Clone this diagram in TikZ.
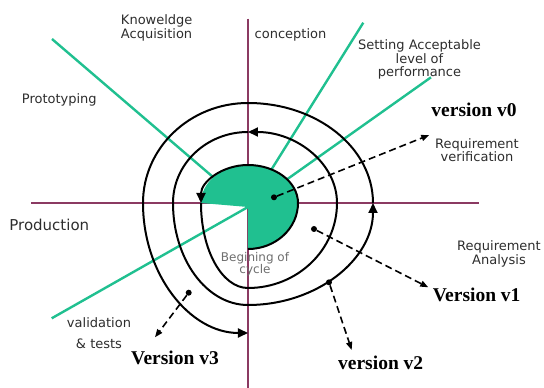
\documentclass[tikz,border=0pt]{standalone}
\usepackage{fontspec}
\setmainfont{DejaVu Sans}
\newfontfamily\verfont{Liberation Serif}
\usepackage{tikz}
\usetikzlibrary{arrows.meta}

\definecolor{axisline}{RGB}{139,58,98}
\definecolor{leafgreen}{RGB}{32,192,144}
\definecolor{labelgray}{RGB}{45,45,45}
\definecolor{cyclegray}{RGB}{110,110,110}

\begin{document}
\begin{tikzpicture}[x=1pt,y=1pt,
  lbl/.style={text=labelgray, font=\fontsize{13}{13.5}\selectfont, align=center, inner sep=0pt},
  ver/.style={font=\verfont\bfseries\fontsize{19.5}{20}\selectfont, inner sep=0pt},
  dot/.style={circle, fill=black, inner sep=0pt, minimum size=6pt},
  dasharrow/.style={line width=1.6pt, dash pattern=on 7pt off 4pt, -{Triangle[length=8pt,width=6pt]}},
  loopline/.style={line width=2pt, -{Triangle[length=10pt,width=9pt]}},
  ray/.style={leafgreen, line width=2.4pt},
  axis/.style={axisline, line width=1.5pt}]

\useasboundingbox (-248,-185) rectangle (296,203);

% axes
\draw[axis] (-216.5,0) -- (231,0);
\draw[axis] (0,184.3) -- (0,-185);

% green rays
\coordinate (hub) at (0,-4);
\draw[ray] (hub) -- (-196,164);
\draw[ray] (hub) -- (115.3,180.3);
\draw[ray] (hub) -- (183,125.7);
\draw[ray] (hub) -- (-196.3,-115.3);

% first turn, filled
\fill[leafgreen] (hub) -- (0,-46)
    arc[start angle=-90, end angle=0, x radius=50pt, y radius=46pt]
    arc[start angle=0, end angle=90, x radius=50pt, y radius=38pt]
    arc[start angle=90, end angle=180, x radius=47pt, y radius=38pt] -- cycle;

% spiral
\draw[loopline] (0,-46)
    arc[start angle=-90, end angle=0, x radius=50pt, y radius=46pt]
    arc[start angle=0, end angle=90, x radius=50pt, y radius=38pt]
    arc[start angle=90, end angle=180, x radius=47pt, y radius=38pt];
\draw[loopline] (-47,0)
    arc[start angle=180, end angle=270, x radius=47pt, y radius=85pt]
    arc[start angle=270, end angle=360, x radius=89pt, y radius=85pt]
    arc[start angle=0, end angle=90, x radius=89pt, y radius=71pt];
\draw[loopline] (0,71)
    arc[start angle=90, end angle=180, x radius=75pt, y radius=71pt]
    arc[start angle=180, end angle=270, x radius=75pt, y radius=102pt]
    arc[start angle=270, end angle=360, x radius=125pt, y radius=102pt];
\draw[loopline] (125,0)
    arc[start angle=0, end angle=90, x radius=125pt, y radius=100pt]
    arc[start angle=90, end angle=180, x radius=105pt, y radius=100pt]
    arc[start angle=180, end angle=270, x radius=105pt, y radius=130pt];

% phase labels
\node[lbl, align=left, anchor=west] (know) at (-127.2,175.3) {Knoweldge\\Acquisition};
\node[lbl] (concep) at (42.5,168.3) {conception};
\node[lbl] (setting) at (171.5,143.5) {Setting Acceptable\\level of\\performance};
\node[lbl] (proto) at (-188.7,103.3) {Prototyping};
\node[lbl, font=\fontsize{15}{16}\selectfont] (prod) at (-198.7,-22) {Production};
\node[lbl] (reqan) at (251,-51) {Requirement\\Analysis};
\node[lbl] (valid) at (-149,-130) {validation\\[8pt]\& tests};
\node[lbl, text=cyclegray, font=\fontsize{12}{11.7}\selectfont] (begin) at (7,-61) {Begining of\\cycle};
\node[lbl] (reqver) at (229,53) {Requirement\\verification};

% versions
\node[ver] (v0) at (226,93) {version v0};
\node[ver] (v1) at (228.7,-92) {Version v1};
\node[ver] (v2) at (132.7,-160.3) {version v2};
\node[ver] (v3) at (-73,-155.3) {Version v3};

% dashed pointers
\node[dot] (d0) at (26,5.7) {};
\node[dot] (d1) at (66,-26) {};
\node[dot] (d2) at (81,-79.3) {};
\node[dot] (d3) at (-59.3,-89.7) {};
\coordinate (t0) at (181.3,68);
\coordinate (t1) at (180.3,-84.3);
\coordinate (t2) at (103.7,-147);
\coordinate (t3) at (-93,-134.3);
\draw[dasharrow] (d0) -- (t0);
\draw[dasharrow] (d1) -- (t1);
\draw[dasharrow] (d2) -- (t2);
\draw[dasharrow] (d3) -- (t3);

\end{tikzpicture}
\end{document}
